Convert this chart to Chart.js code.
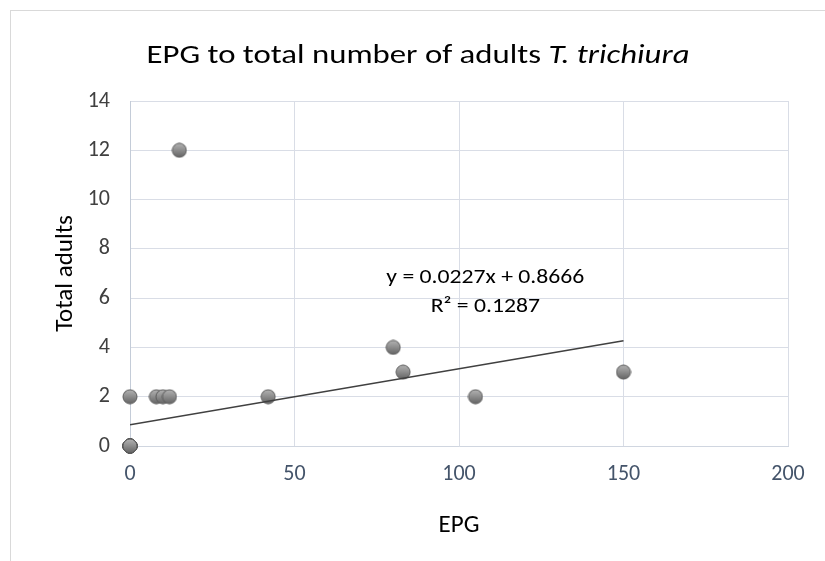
<!DOCTYPE html>
<html>
<head>
<meta charset="utf-8">
<script src="https://cdn.jsdelivr.net/npm/chart.js@4"></script>
<style>
  html, body { margin: 0; padding: 0; background: #fff; }
  #wrap { width: 825px; height: 561px; }
</style>
</head>
<body>
<div id="wrap"><canvas id="myChart" width="825" height="561"></canvas></div>
<script>
// observations (16 animals with zero EPG and zero adults)
var zeroCount = 16;
var epg    = [0, 8, 10, 12, 15, 42, 80, 83, 105, 150];
var adults = [2, 2, 2, 2, 12, 2, 4, 3, 2, 3];
var xTicks = [0, 50, 100, 150, 200];
var yTicks = [0, 2, 4, 6, 8, 10, 12, 14];

// linear trendline as reported
var slope = 0.0227;
var intercept = 0.8666;
var rSquared = 0.1287;

var points = [];
for (var i = 0; i < zeroCount; i++) points.push({x: 0, y: 0});
for (var j = 0; j < epg.length; j++) points.push({x: epg[j], y: adults[j]});

var xMax = Math.max.apply(null, epg);
var trend = [{x: 0, y: intercept}, {x: xMax, y: intercept + slope * xMax}];

var FONT = 'Carlito, Calibri, Lato, sans-serif';

// shaded sphere marker
function makeMarker(r) {
  var c = document.createElement('canvas');
  c.width = c.height = r * 2 + 2;
  var g = c.getContext('2d');
  var cx = r + 1, cy = r + 1;
  var grad = g.createLinearGradient(0, 0, 0, c.height);
  grad.addColorStop(0, '#b8b8b8');
  grad.addColorStop(0.5, '#8c8c8c');
  grad.addColorStop(1, '#5e5e5e');
  g.beginPath();
  g.arc(cx, cy, r, 0, Math.PI * 2);
  g.fillStyle = grad;
  g.fill();
  g.lineWidth = 1;
  g.strokeStyle = '#5a5a5a';
  g.stroke();
  return c;
}

// draw text squeezed/stretched to a given width, centred on cx
function fitText(c, txt, cx, y, width) {
  var w = c.measureText(txt).width;
  var k = width / w;
  c.save();
  c.translate(cx, y);
  c.scale(k, 1);
  c.textAlign = 'center';
  c.fillText(txt, 0, 0);
  c.restore();
}

var frame = {
  id: 'frame',
  beforeDraw: function(chart) {
    var c = chart.ctx;
    c.save();
    c.strokeStyle = '#d9d9d9';
    c.lineWidth = 1;
    c.strokeRect(10.5, 10.5, 900, 900);
    c.restore();
  },
  afterDraw: function(chart) {
    var c = chart.ctx;
    c.save();
    // title with italic species name
    var part1 = 'EPG to total number of adults ';
    var part2 = 'T. trichiura';
    var size = 26;
    c.fillStyle = '#000';
    c.textBaseline = 'alphabetic';
    c.font = size + 'px ' + FONT;
    var w1 = c.measureText(part1).width;
    c.font = 'italic ' + size + 'px ' + FONT;
    var w2 = c.measureText(part2).width;
    var k = 543 / (w1 + w2);
    c.translate(418, 63);
    c.scale(k, 1);
    var x0 = -(w1 + w2) / 2;
    c.textAlign = 'left';
    c.font = size + 'px ' + FONT;
    c.fillText(part1, x0, 0);
    c.font = 'italic ' + size + 'px ' + FONT;
    c.fillText(part2, x0 + w1, 0);
    c.restore();

    // trendline label
    c.save();
    var xs = chart.scales.x, ys = chart.scales.y;
    var lx = xs.getPixelForValue(108);
    var ly = ys.getPixelForValue(6.8);
    c.font = '20px ' + FONT;
    c.fillStyle = '#000';
    c.textBaseline = 'middle';
    var line1 = 'y = ' + slope + 'x + ' + intercept;
    var k2 = 198 / c.measureText(line1).width;
    fitText(c, line1, lx, ly, 198);
    var line2 = 'R\u00b2 = ' + rSquared;
    fitText(c, line2, lx, ly + 29, c.measureText(line2).width * k2);
    c.restore();
  }
};

var ctx = document.getElementById('myChart').getContext('2d');
var chart = new Chart(ctx, {
  type: 'scatter',
  data: {
    datasets: [{
      label: 'Observations',
      data: points,
      pointStyle: makeMarker(7),
      pointRadius: 7,
      pointHoverRadius: 7,
      clip: false,
      order: 1
    }, {
      label: 'Linear trend',
      type: 'line',
      data: trend,
      borderColor: '#404040',
      borderWidth: 1.5,
      pointRadius: 0,
      fill: false,
      order: 0
    }]
  },
  plugins: [frame],
  options: {
    responsive: false,
    animation: false,
    events: [],
    layout: { padding: { left: 20, right: 37, top: 101, bottom: 20 } },
    plugins: {
      legend: { display: false },
      title: { display: false },
      tooltip: { enabled: false }
    },
    scales: {
      x: {
        type: 'linear',
        min: 0, max: 200,
        afterBuildTicks: function(s) { s.ticks = xTicks.map(function(v) { return {value: v}; }); },
        afterFit: function(s) { s.height = 561 - 446 - 20; },
        grid: { color: '#d9dde6', lineWidth: 1, drawTicks: false, tickLength: 0 },
        border: { display: true, color: '#d0d6e0' },
        ticks: { color: '#44546a', font: { family: FONT, size: 22 }, padding: 15 },
        title: { display: true, text: 'EPG', color: '#000', font: { family: FONT, size: 25 }, padding: { top: 6, bottom: 0 } }
      },
      y: {
        type: 'linear',
        min: 0, max: 14,
        afterBuildTicks: function(s) { s.ticks = yTicks.map(function(v) { return {value: v}; }); },
        afterFit: function(s) { s.width = 130 - 20; },
        grid: { color: '#d9dde6', lineWidth: 1, drawTicks: false, tickLength: 0 },
        border: { display: true, color: '#c4ccd8' },
        ticks: { color: '#404040', font: { family: FONT, size: 22 }, padding: 20 },
        title: { display: true, text: 'Total adults', color: '#000', font: { family: FONT, size: 25 }, padding: { top: 31, bottom: 0 } }
      }
    }
  }
});
</script>
</body>
</html>
